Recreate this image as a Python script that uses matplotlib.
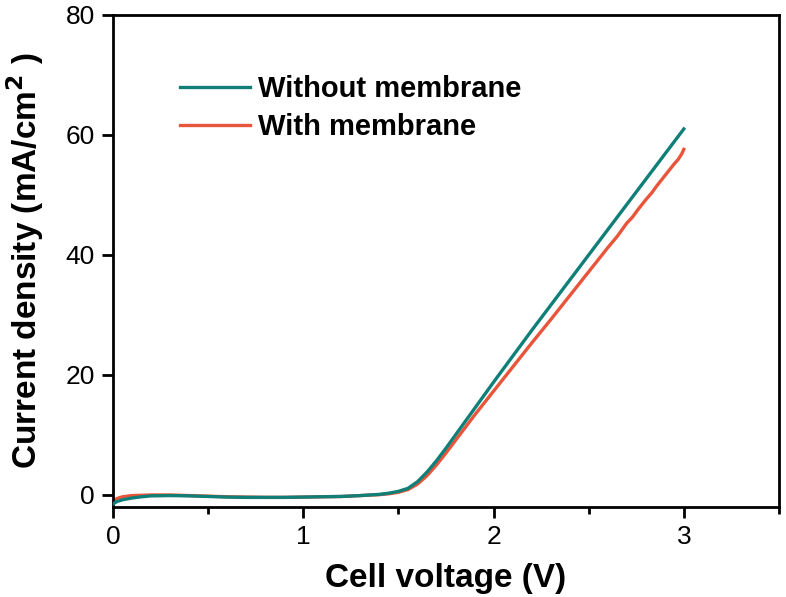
import numpy as np
import matplotlib
matplotlib.use("Agg")
import matplotlib.pyplot as plt
from matplotlib.ticker import MultipleLocator

plt.rcParams["font.family"] = ["Liberation Sans", "DejaVu Sans"]

# Polarization curves
v_without = [0.0, 0.02, 0.05, 0.1, 0.15, 0.2, 0.3, 0.4, 0.5, 0.6, 0.7, 0.8, 0.9, 1.0,
             1.1, 1.2, 1.3, 1.4, 1.45, 1.5, 1.55, 1.6, 1.65, 1.7, 1.75, 1.8, 1.85,
             1.9, 1.95, 2.0, 2.1, 2.2, 2.3, 2.4, 2.5, 2.6, 2.7, 2.8, 2.9, 3.0]
j_without = [-1.5, -1.1, -0.8, -0.5, -0.3, -0.15, -0.1, -0.15, -0.25, -0.35, -0.4, -0.4,
             -0.4, -0.35, -0.3, -0.25, -0.1, 0.1, 0.3, 0.6, 1.1, 2.2, 3.8, 5.7, 7.8,
             10.0, 12.2, 14.4, 16.6, 18.8, 23.1, 27.4, 31.6, 35.8, 40.0, 44.2, 48.4,
             52.6, 56.8, 61.0]

v_with = [0.0, 0.02, 0.05, 0.1, 0.2, 0.3, 0.4, 0.5, 0.6, 0.7, 0.8, 0.9, 1.0, 1.1, 1.2,
          1.3, 1.4, 1.45, 1.5, 1.55, 1.6, 1.65, 1.7, 1.75, 1.8, 1.85, 1.9, 1.95, 2.0,
          2.1, 2.2, 2.3, 2.4, 2.5, 2.6, 2.65, 2.7, 2.73, 2.76, 2.8, 2.83, 2.86, 2.89,
          2.92, 2.95, 2.97, 2.99, 3.0]
j_with = [-1.0, -0.6, -0.3, -0.1, 0.0, 0.0, -0.1, -0.2, -0.3, -0.35, -0.4, -0.4, -0.35,
          -0.3, -0.25, -0.1, 0.05, 0.2, 0.45, 0.9, 1.8, 3.2, 5.0, 7.0, 9.1, 11.2, 13.3,
          15.3, 17.3, 21.3, 25.3, 29.2, 33.2, 37.2, 41.2, 43.1, 45.3, 46.3, 47.6, 49.2,
          50.3, 51.6, 52.8, 54.0, 55.2, 55.9, 56.9, 57.6]

x_ticks = [0, 1, 2, 3]
y_ticks = [0, 20, 40, 60, 80]

fig = plt.figure(figsize=(7.86, 5.97), dpi=100)
ax = fig.add_axes([0.1438, 0.1508, 0.8472, 0.8241])

ax.plot(v_with, j_with, color="#e8553a", lw=2.4, label="With membrane", zorder=2)
ax.plot(v_without, j_without, color="#0f7f78", lw=2.4, label="Without membrane", zorder=3)

ax.set_xlim(0, 3.5)
ax.set_ylim(-2.0, 80)
ax.set_xticks(x_ticks)
ax.set_yticks(y_ticks)
ax.xaxis.set_minor_locator(MultipleLocator(0.5))
ax.tick_params(axis="both", which="major", direction="out", length=8, width=2,
               labelsize=19, pad=5)
ax.tick_params(axis="x", which="minor", direction="out", length=5, width=2)
for s in ax.spines.values():
    s.set_linewidth(2)

label_font = dict(weight="bold", size=24)
ax.set_xlabel("Cell voltage (V)", labelpad=10, **label_font)
ax.set_ylabel("Current density (mA/cm$^{\\mathbf{2}}$ )", labelpad=14, **label_font)

handles, labels = ax.get_legend_handles_labels()
leg = ax.legend(handles[::-1], labels[::-1], loc="upper left",
                bbox_to_anchor=(0.1, 0.877), frameon=False, borderpad=0,
                borderaxespad=0, handlelength=2.4, handletextpad=0.3,
                labelspacing=0.34, prop=dict(weight="bold", size=21))

fig.savefig("out.png", dpi=100)
